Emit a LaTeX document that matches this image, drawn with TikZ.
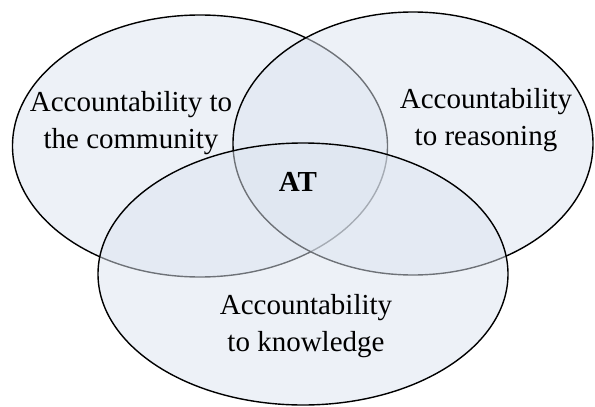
\documentclass[tikz,border=0pt]{standalone}
\usepackage{fontspec}
\setmainfont{Liberation Serif}
\definecolor{venn}{HTML}{DDE5F0}
\tikzset{
  venncircle/.style={draw=black, line width=1.4pt, fill=venn, fill opacity=0.5},
  lbl/.style={align=center, inner sep=0pt, font=\fontsize{29}{37}\selectfont, text opacity=1},
}
\begin{document}
\begin{tikzpicture}[x=1pt,y=-1pt]
\useasboundingbox (0,0) rectangle (595,407);
\fill[white] (0,0) rectangle (595,407);
% left
\path[venncircle] (200,146) ellipse [x radius=187.5pt, y radius=131pt];
% right
\path[venncircle] (413,143.5) ellipse [x radius=180pt, y radius=131.5pt];
% bottom
\path[venncircle] (303,274) ellipse [x radius=205pt, y radius=131pt];
\node[lbl] (comm) at (131,123) {Accountability to\\the community};
\node[lbl] (reas) at (486,120.5) {Accountability\\to reasoning};
\node[lbl] (know) at (306,325.6) {Accountability\\to knowledge};
\node[lbl, anchor=base, font=\fontsize{29}{37}\selectfont\bfseries] (at) at (298,191) {AT};
\end{tikzpicture}
\end{document}
